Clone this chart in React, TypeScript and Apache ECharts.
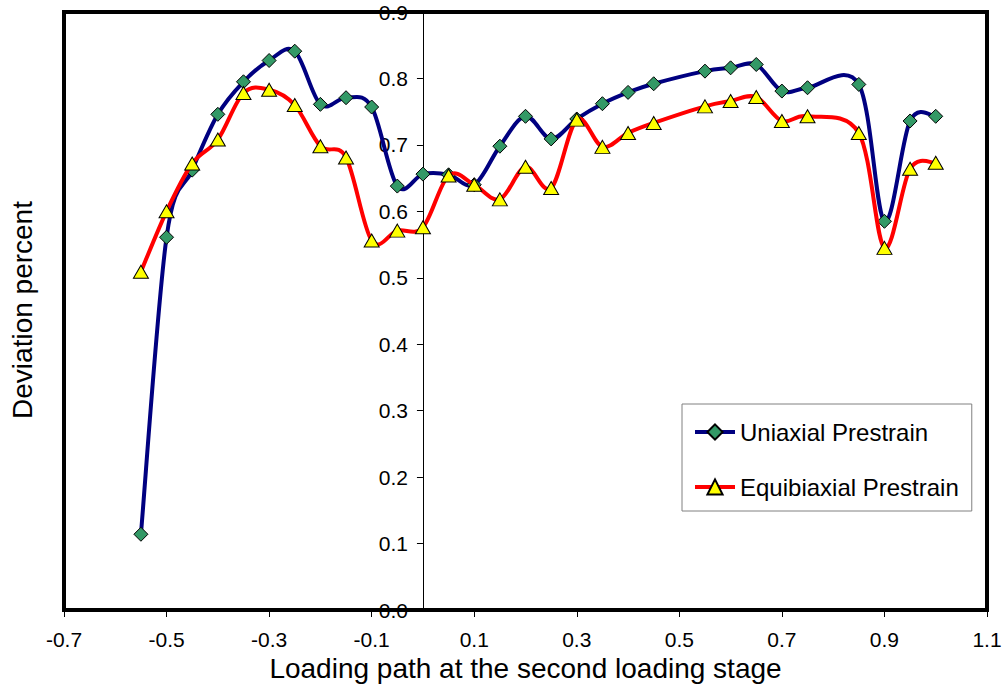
import React, { useEffect, useRef } from "react";
import * as echarts from "echarts";

// Loading path (x) values shared by both series
const loadingPath = [
  -0.55, -0.5, -0.45, -0.4, -0.35, -0.3, -0.25, -0.2, -0.15, -0.1, -0.05, 0,
  0.05, 0.1, 0.15, 0.2, 0.25, 0.3, 0.35, 0.4, 0.45, 0.55, 0.6, 0.65, 0.7, 0.75,
  0.85, 0.9, 0.95, 1.0,
];

const uniaxial = [
  0.114, 0.561, 0.662, 0.746, 0.795, 0.827, 0.841, 0.761, 0.771, 0.757, 0.638,
  0.656, 0.655, 0.64, 0.698, 0.743, 0.709, 0.739, 0.762, 0.779, 0.792, 0.811,
  0.816, 0.821, 0.781, 0.786, 0.791, 0.585, 0.736, 0.743,
];

const equibiaxial = [
  0.509, 0.6, 0.672, 0.708, 0.778, 0.783, 0.76, 0.698, 0.681, 0.556, 0.571,
  0.576, 0.654, 0.64, 0.618, 0.667, 0.635, 0.738, 0.697, 0.718, 0.733, 0.758,
  0.766, 0.772, 0.736, 0.743, 0.718, 0.545, 0.664, 0.673,
];

const xTickLabels = ["-0.7", "-0.5", "-0.3", "-0.1", "0.1", "0.3", "0.5", "0.7", "0.9", "1.1"];
const seriesNames = ["Uniaxial Prestrain", "Equibiaxial Prestrain"];
const xTitle = "Loading path at the second loading stage";
const yTitle = "Deviation percent";

const FONT = 'Arial, "Liberation Sans", sans-serif';

const GRID_LEFT = 64;
const GRID_TOP = 12;
const GRID_W = 923;
const GRID_H = 598;
const X_MIN = -0.7;
const X_MAX = 1.1;

const BLUE = "#000080";
const RED = "#FF0000";

// Smoothed (Catmull-Rom style, like a spreadsheet's smoothed line) curve drawn
// segment by segment from the data through the chart's own coordinate system.
function smoothCurveSeries(name: string, ys: number[], color: string, z: number) {
  const n = loadingPath.length;
  return {
    name,
    type: "custom",
    xAxisIndex: 0,
    yAxisIndex: 0,
    silent: true,
    z,
    data: loadingPath.slice(0, n - 1).map((x, i) => [x, ys[i]]),
    renderItem: (params: any, api: any) => {
      const i = params.dataIndex;
      const P = (k: number) => {
        const c = Math.max(0, Math.min(n - 1, k));
        return api.coord([loadingPath[c], ys[c]]);
      };
      const p0 = P(i - 1);
      const p1 = P(i);
      const p2 = P(i + 1);
      const p3 = P(i + 2);
      return {
        type: "bezierCurve",
        shape: {
          x1: p1[0],
          y1: p1[1],
          x2: p2[0],
          y2: p2[1],
          cpx1: p1[0] + (p2[0] - p0[0]) / 6,
          cpy1: p1[1] + (p2[1] - p0[1]) / 6,
          cpx2: p2[0] - (p3[0] - p1[0]) / 6,
          cpy2: p2[1] - (p3[1] - p1[1]) / 6,
        },
        style: { stroke: color, lineWidth: 4, fill: "none", lineCap: "round", lineJoin: "round" },
      };
    },
  };
}

export default function App() {
  const ref = useRef<HTMLDivElement>(null);

  useEffect(() => {
    if (!ref.current) return;
    const chart = echarts.init(ref.current, undefined, { renderer: "svg" });
    const pairs = (ys: number[]) => loadingPath.map((x, i) => [x, ys[i]]);
    // y axis sits at x = 0 of the value axis
    const yAxisOffset = -((0 - X_MIN) / (X_MAX - X_MIN)) * GRID_W;

    chart.setOption({
      animation: false,
      backgroundColor: "#ffffff",
      grid: {
        left: GRID_LEFT,
        top: GRID_TOP,
        width: GRID_W,
        height: GRID_H,
        show: false,
        containLabel: false,
        outerBoundsMode: "none",
      },
      xAxis: [
        {
          type: "value",
          min: X_MIN,
          max: X_MAX,
          show: false,
          position: "bottom",
          axisLine: { onZero: false },
          splitLine: { show: false },
        },
        {
          type: "category",
          data: xTickLabels,
          boundaryGap: false,
          position: "bottom",
          axisLine: { show: false, onZero: false },
          axisTick: {
            show: true,
            length: 7,
            alignWithLabel: true,
            lineStyle: { color: "#000000", width: 1 },
          },
          axisLabel: {
            color: "#000000",
            fontSize: 21,
            fontFamily: FONT,
            margin: 19,
            interval: 0,
          },
          splitLine: { show: false },
          name: xTitle,
          nameLocation: "middle",
          nameGap: 34,
          nameTextStyle: { color: "#000000", fontSize: 28, fontFamily: FONT },
        },
      ],
      yAxis: {
        type: "value",
        min: 0,
        max: 0.9,
        interval: 0.1,
        position: "left",
        offset: yAxisOffset,
        axisLine: { show: true, onZero: false, lineStyle: { color: "#000000", width: 1 } },
        axisTick: { show: true, length: 6, inside: false, lineStyle: { color: "#000000" } },
        axisLabel: {
          color: "#000000",
          fontSize: 21,
          fontFamily: FONT,
          margin: 15,
          formatter: (v: number) => v.toFixed(1),
        },
        splitLine: { show: false },
      },
      legend: {
        data: [
          { name: seriesNames[0], lineStyle: { color: BLUE, width: 4, opacity: 1 } },
          { name: seriesNames[1], lineStyle: { color: RED, width: 4, opacity: 1 } },
        ],
        orient: "vertical",
        left: 682,
        top: 404,
        padding: [14, 13, 10, 11],
        itemGap: 27,
        itemWidth: 40,
        itemHeight: 19,
        borderColor: "#808080",
        borderWidth: 1,
        backgroundColor: "#ffffff",
        textStyle: { color: "#000000", fontSize: 24, fontFamily: FONT, lineHeight: 28 },
      },
      graphic: [
        {
          type: "rect",
          z: 100,
          silent: true,
          shape: { x: GRID_LEFT, y: GRID_TOP, width: GRID_W, height: GRID_H },
          style: { fill: "none", stroke: "#000000", lineWidth: 4 },
        },
        {
          type: "text",
          x: 22,
          y: 310,
          rotation: Math.PI / 2,
          style: {
            text: yTitle,
            fill: "#000000",
            font: `28px ${FONT}`,
            textAlign: "center",
            textVerticalAlign: "middle",
          },
        },
      ],
      series: [
        smoothCurveSeries("Uniaxial curve", uniaxial, BLUE, 2),
        {
          name: seriesNames[0],
          type: "line",
          xAxisIndex: 0,
          data: pairs(uniaxial),
          symbol: "diamond",
          symbolSize: 14,
          lineStyle: { color: BLUE, width: 0, opacity: 0 },
          itemStyle: { color: "#339966", borderColor: "#000000", borderWidth: 1 },
          z: 3,
        },
        smoothCurveSeries("Equibiaxial curve", equibiaxial, RED, 4),
        {
          name: seriesNames[1],
          type: "line",
          xAxisIndex: 0,
          data: pairs(equibiaxial),
          symbol: "triangle",
          symbolSize: [15, 13],
          lineStyle: { color: RED, width: 0, opacity: 0 },
          itemStyle: { color: "#FFFF00", borderColor: "#000000", borderWidth: 1 },
          z: 5,
        },
      ],
    });

    return () => chart.dispose();
  }, []);

  return (
    <div
      ref={ref}
      style={{ position: "absolute", left: 0, top: 0, width: 1004, height: 686 }}
    />
  );
}
